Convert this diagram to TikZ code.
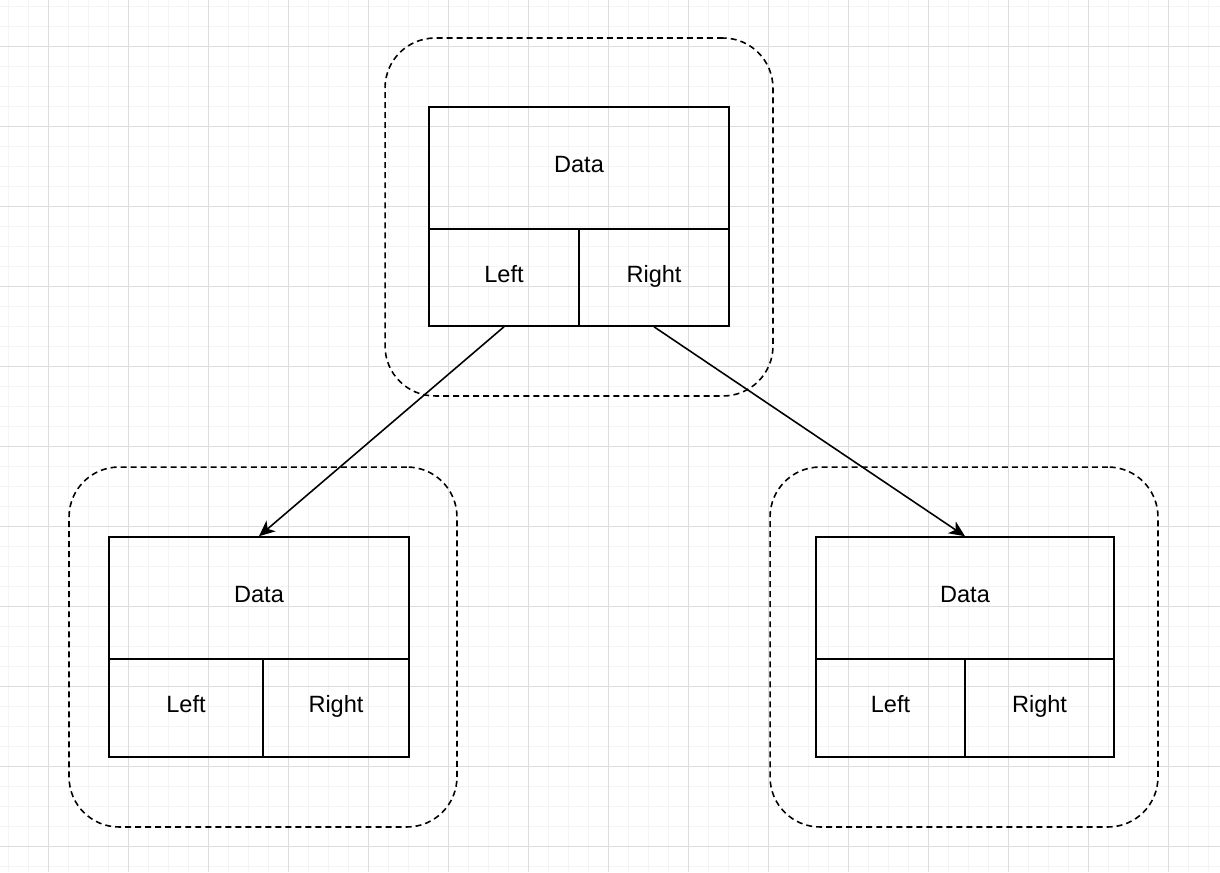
\documentclass[tikz,border=0pt]{standalone}
\usepackage{fontspec}
\setmainfont{Liberation Sans}
\usepackage{tikz}
\usetikzlibrary{arrows.meta,positioning}
\definecolor{gridminor}{HTML}{F4F4F4}
\definecolor{gridmajor}{HTML}{DDDDDD}

\begin{document}
\begin{tikzpicture}[x=0.02cm, y=-0.02cm, >={Stealth[length=9pt,width=8pt,inset=2.5pt]},
  cell/.style={draw, line width=0.9pt, inner sep=0pt, text height=0.72em, text depth=0.2em,
    font=\fontsize{13.4}{16}\selectfont},
  wrap/.style={draw, line width=0.9pt, dash pattern=on 3.4pt off 2.3pt, rounded corners=1cm,
    minimum width=7.76cm, minimum height=7.2cm, inner sep=0pt}]

  \useasboundingbox (0,0) rectangle (1220,872);

  % Background grid
  \foreach \gx in {8,28,...,1220} \draw[gridminor, line width=0.5pt] (\gx,0) -- (\gx,872);
  \foreach \gy in {6,26,...,872} \draw[gridminor, line width=0.5pt] (0,\gy) -- (1220,\gy);
  \foreach \gx in {48,128,...,1220} \draw[gridmajor, line width=0.5pt] (\gx,0) -- (\gx,872);
  \foreach \gy in {46,126,...,872} \draw[gridmajor, line width=0.5pt] (0,\gy) -- (1220,\gy);

  % Define coordinates for nodes
  \node[wrap, minimum height=7.16cm] (Tw) at (579,217) {};
  \node[cell, minimum width=6cm, minimum height=2.44cm] (Tdata) at (579,168) {Data};
  \node[cell, minimum width=3cm, minimum height=1.94cm] (Tleft) at (504,277.5) {Left};
  \node[cell, minimum width=3cm, minimum height=1.94cm] (Tright) at (654,277.5) {Right};

  \node[wrap] (Lw) at (263,647) {};
  \node[cell, minimum width=6cm, minimum height=2.44cm] (Ldata) at (259,598) {Data};
  \node[cell, minimum width=3.08cm, minimum height=1.96cm] (Lleft) at (186,708) {Left};
  \node[cell, minimum width=2.92cm, minimum height=1.96cm] (Lright) at (336,708) {Right};

  \node[wrap] (Rw) at (964,647) {};
  \node[cell, minimum width=5.96cm, minimum height=2.44cm] (Rdata) at (965,598) {Data};
  \node[cell, minimum width=2.98cm, minimum height=1.96cm] (Rleft) at (890.5,708) {Left};
  \node[cell, minimum width=2.98cm, minimum height=1.96cm] (Rright) at (1039.5,708) {Right};

  % Draw arrows between nodes
  \draw[->, line width=0.9pt] (Tleft.south) -- (Ldata.north);
  \draw[->, line width=0.9pt] (Tright.south) -- (Rdata.north);
\end{tikzpicture}
\end{document}
